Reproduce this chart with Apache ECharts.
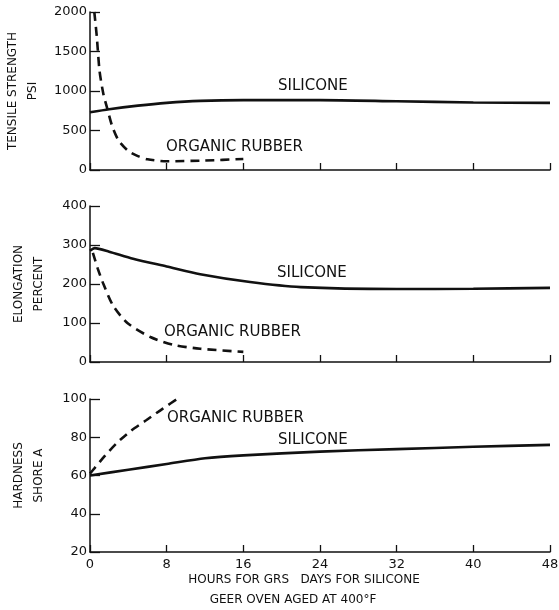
<!DOCTYPE html>
<html>
<head>
<meta charset="utf-8">
<script src="https://cdn.jsdelivr.net/npm/echarts@6/dist/echarts.min.js"></script>
<style>
html,body{margin:0;padding:0;background:#fff;}
#chart{width:559px;height:610px;}
</style>
</head>
<body>
<div id="chart"></div>
<script>
// ---- data ----
const xTicks = [0, 8, 16, 24, 32, 40, 48];
const tensileSilicone = [[0,730],[2,770],[5,815],[8,850],[11.5,875],[16,885],[24,885],[32,870],[40,855],[48,850]];
const tensileOrganic = [[0.45,2000],[0.7,1700],[1.0,1250],[1.4,960],[1.8,780],[2.3,560],[3.0,370],[4.0,240],[5.0,175],[6.0,135],[8,110],[12,120],[16,140]];
const elongSilicone = [[0,285],[0.5,292],[2,283],[4.5,265],[8,245],[11.5,225],[16.7,205],[22,192],[32,187],[40,188],[48,190]];
const elongOrganic = [[0.3,280],[0.8,240],[1.4,200],[2.4,145],[3.9,100],[6.3,64],[8.7,44],[11.5,34],[16,26]];
const hardSilicone = [[0,60],[4,63],[8,66],[12,69],[16,70.5],[24,72.5],[32,73.8],[40,75],[48,76]];
const hardOrganic = [[0,61],[0.5,64],[1.5,70],[2.8,77],[4.3,83.5],[5.9,89],[7.6,95],[9.4,101]];
const tensileTicks = [0, 500, 1000, 1500, 2000];
const elongTicks = [0, 100, 200, 300, 400];
const hardTicks = [20, 40, 60, 80, 100];
const yNames = ['TENSILE STRENGTH\nPSI', 'ELONGATION\nPERCENT', 'HARDNESS\nSHORE A'];
const xTitle1 = 'HOURS FOR GRS   DAYS FOR SILICONE';
const xTitle2 = 'GEER OVEN AGED AT 400°F';

const INK = '#111';
const FONT = 'DejaVu Sans';

const chart = echarts.init(document.getElementById('chart'));

function xAxis(gi, showLabels) {
  return {
    type: 'value', gridIndex: gi, min: xTicks[0], max: xTicks[xTicks.length-1], interval: 8,
    axisLine: {show: true, onZero: false, lineStyle: {color: INK, width: 1.5}},
    axisTick: {show: true, inside: true, length: 7, lineStyle: {color: INK, width: 1.3}},
    axisLabel: {show: showLabels, color: INK, fontFamily: FONT, fontSize: 13, margin: 6},
    splitLine: {show: false}
  };
}
function yAxis(gi, ticks, name) {
  return {
    type: 'value', gridIndex: gi, min: ticks[0], max: ticks[ticks.length-1], interval: ticks[1]-ticks[0],
    name: name, nameLocation: 'middle', nameRotate: 90, nameGap: 41,
    nameTextStyle: {color: INK, fontFamily: FONT, fontSize: 12, lineHeight: 20},
    axisLine: {show: true, onZero: false, lineStyle: {color: INK, width: 1.5}},
    axisTick: {show: true, inside: true, length: 10, lineStyle: {color: INK, width: 1.3}},
    axisLabel: {color: INK, fontFamily: FONT, fontSize: 13, margin: 3, formatter: v => String(v)},
    splitLine: {show: false}
  };
}
function solid(gi, data) {
  return {type: 'line', xAxisIndex: gi, yAxisIndex: gi, data: data, symbol: 'none', smooth: 0.25,
    clip: false, lineStyle: {color: INK, width: 2.6}};
}
function dashed(gi, data) {
  return {type: 'line', xAxisIndex: gi, yAxisIndex: gi, data: data, symbol: 'none', smooth: 0.25,
    clip: false, lineStyle: {color: INK, width: 2.6, type: [9, 6]}};
}
function txt(x, y, s, size) {
  return {type: 'text', x: x, y: y, style: {text: s, fill: INK, font: (size||15) + 'px "' + FONT + '"', textVerticalAlign: 'middle'}};
}

chart.setOption({
  backgroundColor: '#fff',
  animation: false,
  grid: [
    {left: 90, top: 12, width: 460, height: 158, outerBoundsMode: 'none', containLabel: false},
    {left: 90, top: 206, width: 460, height: 156, outerBoundsMode: 'none', containLabel: false},
    {left: 90, top: 399, width: 460, height: 153, outerBoundsMode: 'none', containLabel: false}
  ],
  xAxis: [xAxis(0, false), xAxis(1, false), xAxis(2, true)],
  yAxis: [yAxis(0, tensileTicks, yNames[0]), yAxis(1, elongTicks, yNames[1]), yAxis(2, hardTicks, yNames[2])],
  series: [
    solid(0, tensileSilicone), dashed(0, tensileOrganic),
    solid(1, elongSilicone), dashed(1, elongOrganic),
    solid(2, hardSilicone), dashed(2, hardOrganic)
  ],
  graphic: [
    txt(278, 86, 'SILICONE'),
    txt(166, 147, 'ORGANIC RUBBER'),
    txt(277, 273, 'SILICONE'),
    txt(164, 332, 'ORGANIC RUBBER'),
    txt(167, 418, 'ORGANIC RUBBER'),
    txt(278, 440, 'SILICONE'),
    {type: 'text', x: 304, y: 580, style: {text: xTitle1, fill: INK, font: '12px "' + FONT + '"', textAlign: 'center', textVerticalAlign: 'middle'}},
    {type: 'text', x: 293, y: 600, style: {text: xTitle2, fill: INK, font: '12px "' + FONT + '"', textAlign: 'center', textVerticalAlign: 'middle'}}
  ]
});
</script>
</body>
</html>
